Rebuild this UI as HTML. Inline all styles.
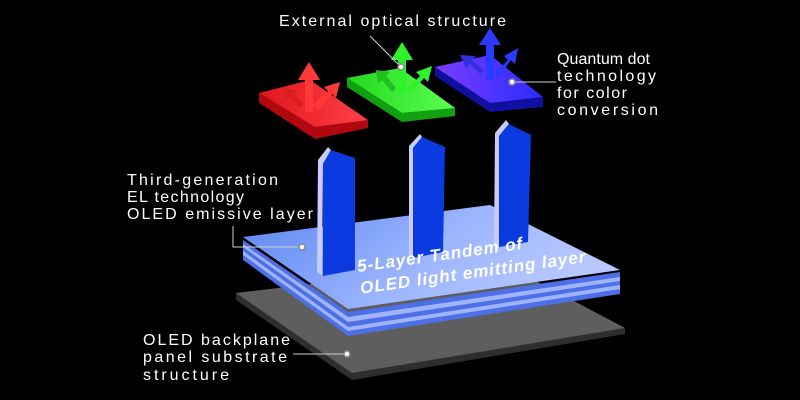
<!DOCTYPE html>
<html><head><meta charset="utf-8"><style>
html,body{margin:0;padding:0;background:#000;}
svg{display:block}
text{font-family:"Liberation Sans","DejaVu Sans",sans-serif;fill:#fff;}
</style></head><body>
<svg width="800" height="400" viewBox="0 0 800 400" xmlns="http://www.w3.org/2000/svg">
<defs>
<linearGradient id="bl" x1="0" y1="0" x2="1" y2="0.3"><stop offset="0" stop-color="#5b86f0"/><stop offset="0.6" stop-color="#9db6ff"/><stop offset="1" stop-color="#b8c8ff"/></linearGradient>
<linearGradient id="rd" x1="0" y1="0" x2="1" y2="0"><stop offset="0" stop-color="#e0161c"/><stop offset="1" stop-color="#ff4048"/></linearGradient>
<linearGradient id="gr" x1="0" y1="0" x2="1" y2="0"><stop offset="0" stop-color="#22d81e"/><stop offset="1" stop-color="#5cff50"/></linearGradient>
<linearGradient id="bu" x1="0" y1="0" x2="1" y2="0"><stop offset="0" stop-color="#7a3cff"/><stop offset="1" stop-color="#2a2cff"/></linearGradient>
</defs>
<rect width="800" height="400" fill="#000"/>
<polygon points="236,293 500,262 625,328 625,334 352,380 236,300" fill="#2e2e2e"/>
<polygon points="236,293 500,262 625,328 352,373" fill="#5e5e5e"/>
<polygon points="243,254 348,330 620,288 620,294 348,336 243,260" fill="#4d70e6"/>
<polygon points="243,250 348,326 620,284 620,289 348,331 243,255" fill="#9fb3ff"/>
<polygon points="243,246 348,321 620,280 620,285 348,327 243,251" fill="#4d70e6"/>
<polygon points="243,243 348,316 620,276 620,281 348,322 243,247" fill="#9fb3ff"/>
<polygon points="243,240 348,312 620,272 620,277 348,317 243,244" fill="#4d70e6"/>
<polygon points="243,237 490,205 620,270 348,309" fill="url(#bl)"/>
<g>
<polygon points="318,160 328,147 331,150 323,164 322,275 317,272" fill="#c8ccff"/>
<polygon points="323,164 331,150 355,158 355,270 323,276" fill="#0a3ae0"/>
<polygon points="409,146 420,134 422,137 413,148 413,258 409,256" fill="#c8ccff"/>
<polygon points="413,148 422,137 445,147 443,252 413,258" fill="#0a3ae0"/>
<polygon points="495,133 506,120 509,124 499,136 499,247 494,245" fill="#c8ccff"/>
<polygon points="499,136 509,124 531,135 528,242 499,247" fill="#0a3ae0"/>
</g>
<polygon points="259,93 315,127 368,120 368,128 315,139 259,103" fill="#b0080e"/>
<polygon points="259,93 310,80 368,120 315,127" fill="url(#rd)"/>
<g fill="#ff3838">
<polygon points="305,112 305,80 298,80 309,62 320,80 313,80 313,112"/>
<polygon points="312,105 328,91 324,87 340,82 336,98 332,94 318,110" />
<polygon points="300,108 290,98 286,102 284,88 298,90 294,94 304,104" fill="#d82020"/>
</g>
<polygon points="347,78 402,113 455,108 455,116 402,122 347,87" fill="#10a010"/>
<polygon points="347,78 400,68 455,108 402,113" fill="url(#gr)"/>
<g fill="#2ef22a">
<polygon points="398,94 398,60 391,60 402,42 413,60 406,60 406,94"/>
<polygon points="406,90 420,76 416,72 432,66 428,82 424,78 410,94"/>
<polygon points="392,92 382,80 378,84 376,70 390,72 386,76 396,88" fill="#20c020"/>
</g>
<polygon points="435,67 490,103 543,97 543,107 490,112 435,76" fill="#1010a0"/>
<polygon points="435,67 490,55 543,97 490,103" fill="url(#bu)"/>
<g fill="#2a3aff">
<polygon points="486,80 486,45 479,45 490,28 501,45 494,45 494,80"/>
<polygon points="494,74 508,60 504,56 518,48 515,64 511,60 498,78"/>
<polygon points="480,74 470,64 466,68 460,55 476,56 472,60 484,70" fill="#3030e0"/>
</g>
<g transform="rotate(-8 358 272)" font-weight="bold" font-style="italic" font-size="17" letter-spacing="1">
<text x="358" y="272" fill="#fff">5-Layer Tandem of</text>
<text x="358" y="294" fill="#fff">OLED light emitting layer</text>
</g>
<g stroke="#cfcfcf" stroke-width="1" fill="none">
<polyline points="370,36 401,67"/>
<polyline points="512,82 556,82"/>
<polyline points="233,226 233,247 302,247"/>
<polyline points="293,354 347,354"/>
</g>
<g fill="#fff" stroke="#888" stroke-width="1.5">
<circle cx="401" cy="67" r="3"/><circle cx="512" cy="82" r="3"/><circle cx="302" cy="247" r="3"/><circle cx="347" cy="354" r="3"/>
</g>
<g font-size="16" lengthAdjust="spacing">
<text x="279" y="26" textLength="227">External optical structure</text>
<text x="557" y="64" textLength="93">Quantum dot</text>
<text x="557" y="81" textLength="99">technology</text>
<text x="557" y="98" textLength="70">for color</text>
<text x="557" y="115" textLength="101">conversion</text>
<text x="127" y="185" textLength="151">Third-generation</text>
<text x="127" y="202" textLength="117">EL technology</text>
<text x="127" y="219" textLength="186">OLED emissive layer</text>
<text x="143" y="345" textLength="147">OLED backplane</text>
<text x="143" y="362" textLength="144">panel substrate</text>
<text x="143" y="380" textLength="86">structure</text>
</g>
</svg>
</body></html>
